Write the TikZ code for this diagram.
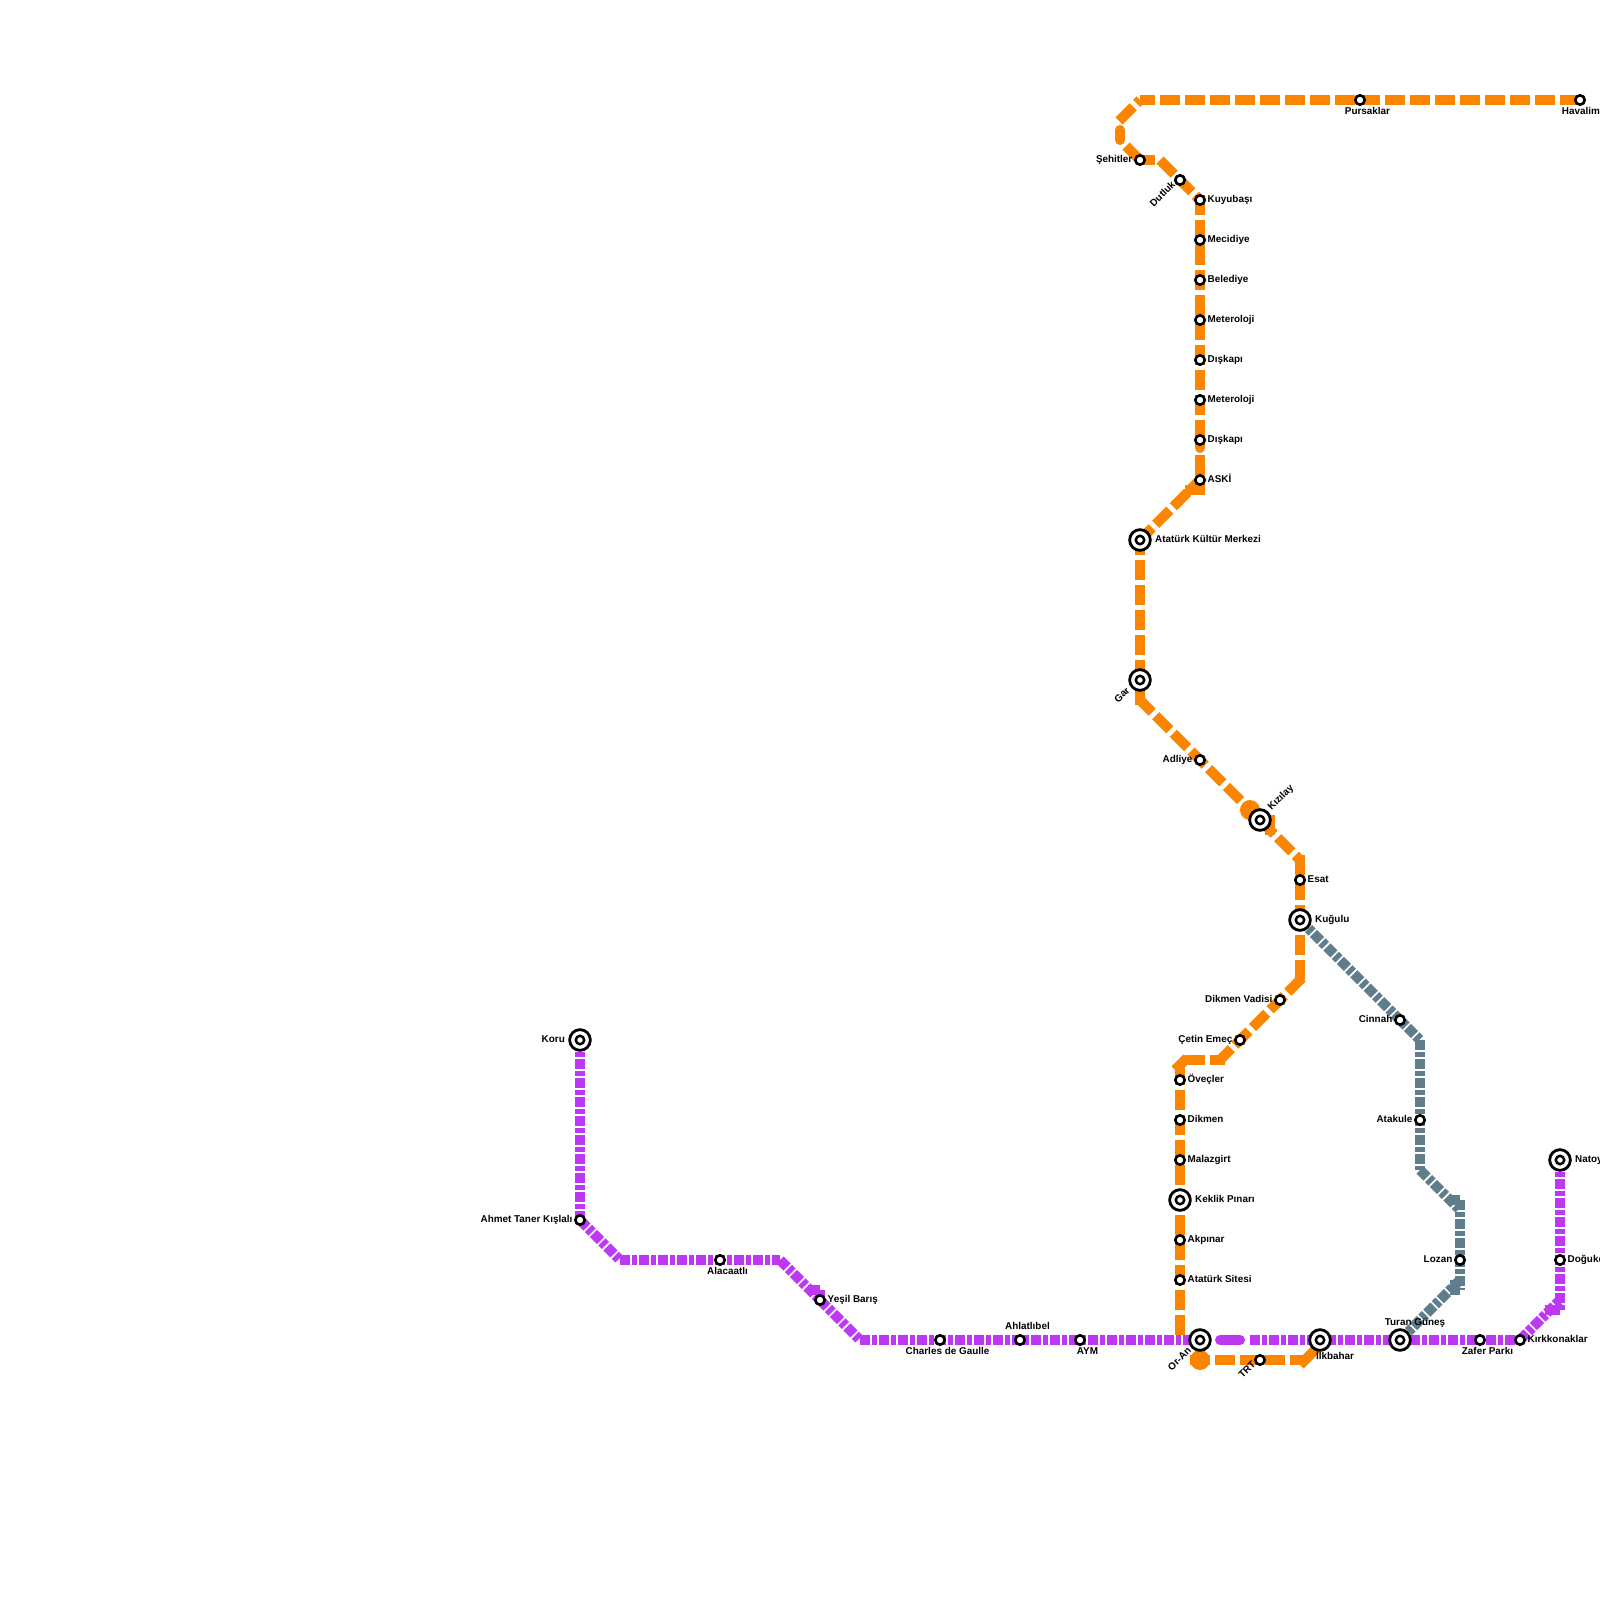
\documentclass[tikz,border=0pt]{standalone}
\usepackage{fontspec}
\setmainfont{Liberation Sans}
\usetikzlibrary{backgrounds}
\definecolor{lineorange}{HTML}{FB8500}
\definecolor{linepurple}{HTML}{BE38F3}
\definecolor{linegray}{HTML}{607D8B}

\begin{document}
\begin{tikzpicture}[
    x=1pt, y=-1pt,
    stn/.style={circle, draw=black, fill=white, line width=2.6pt, inner sep=0pt, minimum size=9.4pt},
    hub/.style={circle, draw=black, fill=white, line width=2.8pt, inner sep=0pt, minimum size=20.7pt,
                path picture={\draw[black, line width=2.5pt] (path picture bounding box.center) circle (4.2);}},
    dot/.style={circle, fill=lineorange, inner sep=0pt, minimum size=20pt},
    lab/.style={font=\fontsize{9.9}{12}\selectfont\bfseries, inner sep=0pt, text height=7.2pt, text depth=2.1pt},
    labr/.style={lab, anchor=west},
    labl/.style={lab, anchor=east},
    orangeline/.style={lineorange, line width=10pt, dash pattern=on 20pt off 5pt},
    purpleline/.style={linepurple, line width=10pt, dash pattern=on 10pt off 2pt on 5pt off 2pt},
    grayline/.style={linegray, line width=10pt, dash pattern=on 10pt off 2pt on 5pt off 2pt},
    orangebit/.style={lineorange, line width=10pt},
    purplebit/.style={linepurple, line width=10pt},
    graybit/.style={linegray, line width=10pt}
]
\useasboundingbox (0,0) rectangle (1600,1600);

% --- orange stations ---
\node[stn] (havalimani) at (1580,100) {};
\node[stn] (pursaklar) at (1360,100) {};
\node[stn] (sehitler) at (1140,160) {};
\node[stn] (dutluk) at (1180,180) {};
\node[stn] (kuyubasi) at (1200,200) {};
\node[stn] (mecidiye) at (1200,240) {};
\node[stn] (belediye) at (1200,280) {};
\node[stn] (meteorA) at (1200,320) {};
\node[stn] (diskapiA) at (1200,360) {};
\node[stn] (meteorB) at (1200,400) {};
\node[stn] (diskapiB) at (1200,440) {};
\node[stn] (aski) at (1200,480) {};
\node[hub] (akm) at (1140,540) {};
\node[hub] (gar) at (1140,680) {};
\node[stn] (adliye) at (1200,760) {};
\node[dot] (kizilayDot) at (1250,810) {};
\node[hub] (kizilay) at (1260,820) {};
\node[stn] (esat) at (1300,880) {};
\node[hub] (kugulu) at (1300,920) {};
\node[stn] (dikmenVadisi) at (1280,1000) {};
\node[stn] (cetinEmec) at (1240,1040) {};
\node[stn] (ovecler) at (1180,1080) {};
\node[stn] (dikmen) at (1180,1120) {};
\node[stn] (malazgirt) at (1180,1160) {};
\node[hub] (keklik) at (1180,1200) {};
\node[stn] (akpinar) at (1180,1240) {};
\node[stn] (ataturkSitesi) at (1180,1280) {};
\node[dot] (oranDot) at (1200,1360) {};
\node[stn] (trt) at (1260,1360) {};

% --- purple stations ---
\node[hub] (koru) at (580,1040) {};
\node[stn] (ahmetTaner) at (580,1220) {};
\node[stn] (alacaatli) at (720,1260) {};
\node[stn] (yesilBaris) at (820,1300) {};
\node[stn] (charles) at (940,1340) {};
\node[stn] (ahlatlibel) at (1020,1340) {};
\node[stn] (aym) at (1080,1340) {};
\node[hub] (oran) at (1200,1340) {};
\node[hub] (ilkbahar) at (1320,1340) {};
\node[hub] (turan) at (1400,1340) {};
\node[stn] (zafer) at (1480,1340) {};
\node[stn] (kirkkonaklar) at (1520,1340) {};
\node[stn] (dogukent) at (1560,1260) {};
\node[hub] (natoyolu) at (1560,1160) {};

% --- gray stations ---
\node[stn] (cinnah) at (1400,1020) {};
\node[stn] (atakule) at (1420,1120) {};
\node[stn] (lozan) at (1460,1260) {};

% --- bends ---
\coordinate (topA) at (1140,100);
\coordinate (topB) at (1119,121);
\coordinate (pillA) at (1120,130);
\coordinate (pillB) at (1120,140);
\coordinate (pillE) at (1126,146);
\coordinate (sehitB) at (1155,160);
\coordinate (dutA) at (1160,160);
\coordinate (kuyuA) at (1200,195);
\coordinate (kuyuB) at (1200,445);
\coordinate (roundA) at (1200,443);
\coordinate (roundB) at (1200,448);
\coordinate (askiA) at (1200,455);
\coordinate (askiB) at (1200,495);
\coordinate (blobA) at (1185,490);
\coordinate (blobB) at (1200,490);
\coordinate (akmA) at (1138,542);
\coordinate (akmB) at (1140,535);
\coordinate (garB) at (1140,705);
\coordinate (garC) at (1138,698);
\coordinate (kizA) at (1245,805);
\coordinate (kizB) at (1270,815);
\coordinate (kizC) at (1270,835);
\coordinate (esatA) at (1300,860);
\coordinate (esatB) at (1300,855);
\coordinate (kugA) at (1300,980);
\coordinate (dikA) at (1302,978);
\coordinate (dikB) at (1218,1062);
\coordinate (cetA) at (1185,1060);
\coordinate (cetB) at (1225,1060);
\coordinate (oveA) at (1175,1070);
\coordinate (oveB) at (1187,1058);
\coordinate (oveC) at (1180,1065);
\coordinate (oveD) at (1180,1335);
\coordinate (trtA) at (1190,1360);
\coordinate (trtB) at (1305,1360);
\coordinate (ilkA) at (1300,1365);
\coordinate (ilkB) at (1320,1345);

\coordinate (ahmetB) at (620,1260);
\coordinate (alaB) at (780,1260);
\coordinate (yesA) at (808,1290);
\coordinate (yesB) at (820,1290);
\coordinate (yesC) at (820,1295);
\coordinate (yesD) at (825,1295);
\coordinate (charA) at (860,1340);
\coordinate (pillC) at (1220,1340);
\coordinate (pillD) at (1240,1340);
\coordinate (ilkC) at (1250,1340);
\coordinate (zafA) at (1410,1340);
\coordinate (natB) at (1560,1310);
\coordinate (natC) at (1560,1300);
\coordinate (natD) at (1545,1310);
\coordinate (natE) at (1560,1310);

\coordinate (cinB) at (1420,1040);
\coordinate (ataB) at (1420,1170);
\coordinate (lozA) at (1460,1210);
\coordinate (lozB) at (1450,1200);
\coordinate (lozC) at (1460,1200);
\coordinate (lozD) at (1460,1290);
\coordinate (lozE) at (1460,1280);
\coordinate (lozF) at (1455,1280);
\coordinate (lozG) at (1455,1295);

% --- lines ---
\begin{scope}[on background layer]
\draw[grayline] (kugulu.center) -- (cinB);
\draw[grayline] (cinB) -- (ataB);
\draw[grayline] (ataB) -- (lozA);
\draw[graybit] (lozB) -- (lozC);
\draw[grayline] (lozC) -- (lozD);
\draw[graybit] (lozF) -- (lozG);
\draw[grayline] (turan.center) -- (lozE);

\draw[purpleline] (koru.center) -- (ahmetTaner.center);
\draw[purpleline] (ahmetTaner.center) -- (ahmetB);
\draw[purpleline] (ahmetB) -- (alaB);
\draw[purpleline] (alaB) -- (yesilBaris.center);
\draw[purplebit] (yesA) -- (yesB);
\draw[purplebit] (yesC) -- (yesD);
\draw[purpleline] (yesilBaris.center) -- (charA);
\draw[purpleline] (charA) -- (oran.center);
\draw[purplebit, line cap=round] (pillC) -- (pillD);
\draw[purpleline] (ilkC) -- (turan.center);
\draw[purpleline] (zafA) -- (kirkkonaklar.center);
\draw[purpleline] (kirkkonaklar.center) -- (natC);
\draw[purplebit] (natD) -- (natE);
\draw[purpleline] (natoyolu.center) -- (natB);

\draw[orangeline] (havalimani.center) -- (topA);
\draw[orangeline] (topB) -- (topA);
\draw[orangebit, line cap=round] (pillA) -- (pillB);
\draw[orangebit] (sehitler.center) -- (pillE);
\draw[orangebit] (sehitler.center) -- (sehitB);
\draw[orangeline] (dutA) -- (kuyubasi.center);
\draw[orangeline] (kuyuA) -- (kuyuB);
\draw[orangebit, line cap=round] (roundA) -- (roundB);
\draw[orangeline] (askiA) -- (askiB);
\draw[orangebit] (blobA) -- (blobB);
\draw[orangeline] (akmA) -- (aski.center);
\draw[orangeline] (akmB) -- (garB);
\draw[orangeline] (garC) -- (kizA);
\draw[orangebit] (kizB) -- (kizC);
\draw[orangeline] (kizilay.center) -- (esatA);
\draw[orangeline] (esatB) -- (kugulu.center);
\draw[orangeline] (kugA) -- (kugulu.center);
\draw[orangeline] (dikA) -- (dikB);
\draw[orangeline] (cetA) -- (cetB);
\draw[orangebit] (oveA) -- (oveB);
\draw[orangeline] (oveC) -- (oveD);
\draw[orangeline] (trtA) -- (trtB);
\draw[orangebit] (ilkA) -- (ilkB);
\end{scope}

% --- labels ---
\node[lab] (havalimaniL) at (1588,112) {Havalimanı};
\node[lab] (pursaklarL) at (1367.5,112) {Pursaklar};
\node[labl] (sehitlerL) at (1132.5,160) {Şehitler};
\node[lab, rotate=45] (dutlukL) at (1163,194.5) {Dutluk};
\node[labr] (kuyubasiL) at (1207.5,200) {Kuyubaşı};
\node[labr] (mecidiyeL) at (1207.5,240) {Mecidiye};
\node[labr] (belediyeL) at (1207.5,280) {Belediye};
\node[labr] (meteorAL) at (1207.5,320) {Meteroloji};
\node[labr] (diskapiAL) at (1207.5,360) {Dışkapı};
\node[labr] (meteorBL) at (1207.5,400) {Meteroloji};
\node[labr] (diskapiBL) at (1207.5,440) {Dışkapı};
\node[labr] (askiL) at (1207.5,480) {ASKİ};
\node[labr] (akmL) at (1155,540) {Atatürk Kültür Merkezi};
\node[lab, rotate=45] (garL) at (1122.5,695.5) {Gar};
\node[labl] (adliyeL) at (1192.5,760) {Adliye};
\node[lab, rotate=45] (kizilayL) at (1281,798) {Kızılay};
\node[labr] (esatL) at (1307.5,880) {Esat};
\node[labr] (kuguluL) at (1315,920) {Kuğulu};
\node[labl] (dikmenVadisiL) at (1272.5,1000) {Dikmen Vadisi};
\node[labl] (cetinEmecL) at (1232.5,1040) {Çetin Emeç};
\node[labr] (oveclerL) at (1187.5,1080) {Öveçler};
\node[labr] (dikmenL) at (1187.5,1120) {Dikmen};
\node[labr] (malazgirtL) at (1187.5,1160) {Malazgirt};
\node[labr] (keklikL) at (1195,1200) {Keklik Pınarı};
\node[labr] (akpinarL) at (1187.5,1240) {Akpınar};
\node[labr] (ataturkSitesiL) at (1187.5,1280) {Atatürk Sitesi};
\node[lab, rotate=45] (oranL) at (1180,1359.5) {Or-An};
\node[lab, rotate=45] (trtL) at (1247.5,1370) {TRT};
\node[labl] (koruL) at (565,1040) {Koru};
\node[labl] (ahmetTanerL) at (572.5,1220) {Ahmet Taner Kışlalı};
\node[lab] (alacaatliL) at (727.5,1272) {Alacaatlı};
\node[labr] (yesilBarisL) at (827.5,1300) {Yeşil Barış};
\node[lab] (charlesL) at (947.5,1352) {Charles de Gaulle};
\node[lab] (ahlatlibelL) at (1027.5,1327) {Ahlatlıbel};
\node[lab] (aymL) at (1087.5,1352) {AYM};
\node[lab] (ilkbaharL) at (1335,1357) {İlkbahar};
\node[lab] (turanL) at (1415,1323) {Turan Güneş};
\node[lab] (zaferL) at (1487.5,1352) {Zafer Parkı};
\node[labr] (kirkkonaklarL) at (1527.5,1340) {Kırkkonaklar};
\node[labr] (dogukentL) at (1567.5,1260) {Doğukent};
\node[labr] (natoyoluL) at (1575,1160) {Natoyolu};
\node[labl] (cinnahL) at (1392.5,1020) {Cinnah};
\node[labl] (atakuleL) at (1412.5,1120) {Atakule};
\node[labl] (lozanL) at (1452.5,1260) {Lozan};

\end{tikzpicture}
\end{document}
